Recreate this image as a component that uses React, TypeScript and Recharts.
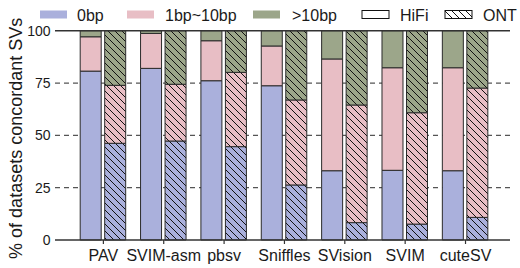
import React from 'react';
import { BarChart, Bar, XAxis, YAxis, CartesianGrid, ReferenceLine } from 'recharts';

const categories = ['PAV', 'SVIM-asm', 'pbsv', 'Sniffles', 'SVision', 'SVIM', 'cuteSV'];
const hifi0bp = [80.7, 82.0, 76.1, 73.7, 33.1, 33.3, 33.1];
const hifi1to10bp = [16.4, 16.7, 19.1, 19.0, 53.4, 49.0, 49.2];
const hifiOver10bp = [2.9, 1.3, 4.8, 7.3, 13.5, 17.7, 17.7];
const ont0bp = [46.2, 47.3, 44.6, 26.3, 8.3, 7.6, 10.8];
const ont1to10bp = [27.7, 27.1, 35.5, 40.6, 56.2, 53.2, 61.8];
const ontOver10bp = [26.1, 25.6, 19.9, 33.1, 35.5, 39.2, 27.4];
const yTicks = [0, 25, 50, 75, 100];
const gridValues = [25, 50, 75];

const data = categories.map((name, i) => ({
  name,
  h0: hifi0bp[i],
  h1: hifi1to10bp[i],
  h2: hifiOver10bp[i],
  o0: ont0bp[i],
  o1: ont1to10bp[i],
  o2: ontOver10bp[i],
}));

const BLUE = '#aab0dc';
const PINK = '#e8bec5';
const GREEN = '#9ca68a';
const EDGE = '#2a2a2a';
const TEXT = '#1a1a1a';
const FONT = '"Liberation Sans", Arial, sans-serif';

const Hatch = ({ id, bg }: { id: string; bg: string }) => (
  <pattern id={id} patternUnits="userSpaceOnUse" width={7} height={7}>
    <rect x={0} y={0} width={7} height={7} fill={bg} />
    <path d="M-1,6 l2,2 M0,0 l7,7 M6,-1 l2,2" stroke="#111" strokeWidth={1} />
  </pattern>
);

const YLabel = (props: any) => {
  const vb = props.viewBox || { x: 0, y: 0, width: 0, height: 0 };
  const cx = vb.x + 16;
  const cy = vb.y + vb.height / 2 + 3;
  return (
    <text
      x={cx}
      y={cy}
      transform={`rotate(-90, ${cx}, ${cy})`}
      textAnchor="middle"
      dominantBaseline="central"
      fontSize={18}
      fill={TEXT}
      fontFamily={FONT}
    >
      % of datasets concordant SVs
    </text>
  );
};

const legendItems = [
  { label: '0bp', fill: BLUE, stroke: 'none', x: 40, tx: 77 },
  { label: '1bp~10bp', fill: PINK, stroke: 'none', x: 127, tx: 165 },
  { label: '>10bp', fill: GREEN, stroke: 'none', x: 253, tx: 292 },
  { label: 'HiFi', fill: '#fff', stroke: '#111', x: 362, tx: 400 },
  { label: 'ONT', fill: 'url(#hatchLegend)', stroke: '#111', x: 445, tx: 483 },
];

const Legend = () => (
  <svg width={520} height={30} style={{ position: 'absolute', left: 0, top: 0 }}>
    <defs>
      <Hatch id="hatchLegend" bg="#fff" />
    </defs>
    {legendItems.map((it) => (
      <g key={it.label}>
        <rect x={it.x} y={10.5} width={27} height={8} fill={it.fill} stroke={it.stroke} strokeWidth={1} />
        <text x={it.tx} y={15} dominantBaseline="central" fontSize={16} fill={TEXT} fontFamily={FONT}>
          {it.label}
        </text>
      </g>
    ))}
  </svg>
);

export default function App() {
  return (
    <div style={{ position: 'absolute', left: 0, top: 0, width: 520, height: 268, background: '#fff' }}>
      <BarChart
        width={520}
        height={268}
        data={data}
        margin={{ top: 30.7, right: 10, bottom: 0, left: 0 }}
        barSize={21}
        barGap={3.5}
      >
        <defs>
          <Hatch id="hatchBlue" bg={BLUE} />
          <Hatch id="hatchPink" bg={PINK} />
          <Hatch id="hatchGreen" bg={GREEN} />
        </defs>
        <CartesianGrid
          vertical={false}
          horizontalValues={gridValues}
          stroke="#555"
          strokeWidth={1.2}
          strokeDasharray="5 4"
        />
        <XAxis
          dataKey="name"
          height={28}
          padding={{ left: 18.2, right: 14.3 }}
          axisLine={{ stroke: '#333', strokeWidth: 1.5 }}
          tickLine={{ stroke: '#333', strokeWidth: 1.2 }}
          tickSize={4}
          tickMargin={6}
          interval={0}
          tick={{ fontSize: 16, fill: TEXT, fontFamily: FONT }}
        />
        <YAxis
          width={55}
          domain={[0, 100]}
          ticks={yTicks}
          axisLine={false}
          tickLine={false}
          tickSize={3}
          tickMargin={1.5}
          tick={{ fontSize: 14, fill: TEXT, fontFamily: FONT }}
          label={<YLabel />}
        />
        <Bar dataKey="h0" stackId="hifi" fill={BLUE} stroke={EDGE} strokeWidth={1} isAnimationActive={false} />
        <Bar dataKey="h1" stackId="hifi" fill={PINK} stroke={EDGE} strokeWidth={1} isAnimationActive={false} />
        <Bar dataKey="h2" stackId="hifi" fill={GREEN} stroke={EDGE} strokeWidth={1} isAnimationActive={false} />
        <Bar dataKey="o0" stackId="ont" fill="url(#hatchBlue)" stroke={EDGE} strokeWidth={1} isAnimationActive={false} />
        <Bar dataKey="o1" stackId="ont" fill="url(#hatchPink)" stroke={EDGE} strokeWidth={1} isAnimationActive={false} />
        <Bar dataKey="o2" stackId="ont" fill="url(#hatchGreen)" stroke={EDGE} strokeWidth={1} isAnimationActive={false} />
        <ReferenceLine y={100} stroke="#333" strokeWidth={1.5} />
      </BarChart>
      <Legend />
    </div>
  );
}
